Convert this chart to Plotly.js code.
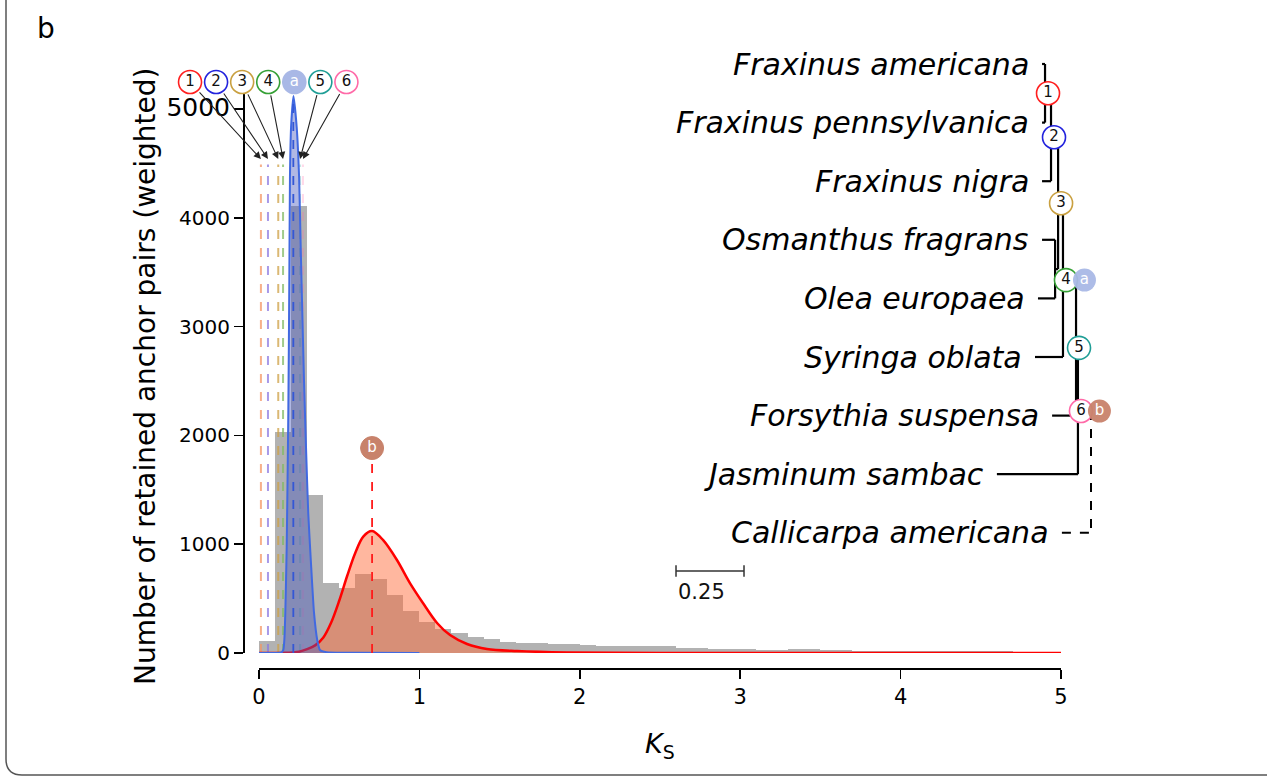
<!DOCTYPE html>
<html><head><meta charset="utf-8">
<script src="https://cdn.plot.ly/plotly-3.0.1.min.js"></script>
<style>html,body{margin:0;padding:0;background:#fff;}#chart{width:1267px;height:778px;}</style>
</head><body><div id="chart"></div>
<script>
// ================= DATA =================
// Ks histogram (bin left edges, bin width 0.1) and weighted anchor-pair counts
const ksBinLeft = [0.0,0.1,0.2,0.3,0.4,0.5,0.6,0.7,0.8,0.9,1.0,1.1,1.2,1.3,1.4,1.5,1.6,1.7,1.8,1.9,
  2.0,2.1,2.2,2.3,2.4,2.5,2.6,2.7,2.8,2.9,3.0,3.1,3.2,3.3,3.4,3.5,3.6,3.7,3.8,3.9,
  4.0,4.1,4.2,4.3,4.4,4.5,4.6,4.7,4.8,4.9];
const anchorCounts = [110,2030,4110,1450,640,600,725,680,535,390,285,220,180,145,126,104,92,88,82,80,
  78,66,64,63,66,64,46,42,36,34,33,28,28,33,33,32,32,22,21,20,
  18,18,17,17,15,14,14,13,13,12];
// WGD component a (blue) density curve
const wgdAKs =     [0.00,0.10,0.140,0.1515,0.158,0.164,0.1727,0.1827,0.189,0.193,0.200,0.215,0.235,0.250,0.260,0.270,0.2805,0.293,0.307,0.324,0.343,0.363,0.380,0.42,0.60,1.00];
const wgdAValues = [0,   0,   5,    28,    120,  368,  975,   2206,  3428, 4375, 4834, 5120, 4834, 4375, 3732, 3125, 2509,  1893, 1287, 827,  368,  120,  28,   8,   3,   0];
// WGD component b (red) density curve
const wgdBKs =     [0.00,0.15,0.25,0.30,0.35,0.40,0.45,0.50,0.55,0.60,0.65,0.705,0.773,0.86,0.941,1.022,1.11,1.191,1.297,1.421,1.608,1.92,2.50,5.00];
const wgdBValues = [0,   1,   12,  35,  70,  140, 280, 480, 710, 920, 1070,1121, 1039, 855, 643,  460,  276, 165,  83,   37,   18,   5,   1,   0];
// WGD peaks
const wgdLabels = ['a','b'];
const wgdPeakKs = [0.214, 0.705];
const wgdPeakValues = [5120, 1121];
// Speciation (divergence) Ks peaks for tree nodes 1-6
const specLabels = ['1','2','3','4','5','6'];
const specPeakKs = [0.012, 0.056, 0.120, 0.150, 0.256, 0.274];
// Tick labels
const xTicks = [0,1,2,3,4,5];
const yTicks = [0,1000,2000,3000,4000,5000];
// Species tree (leaves top to bottom), distances from root in Ks units
const treeLeaves = ['Fraxinus americana','Fraxinus pennsylvanica','Fraxinus nigra','Osmanthus fragrans',
  'Olea europaea','Syringa oblata','Forsythia suspensa','Jasminum sambac','Callicarpa americana'];
const leafDepth = [0.180,0.180,0.180,0.180,0.195,0.206,0.143,0.346,0.107];
const nodeNames  = ['n1','n2','nO','n3','n4','n5','n6','root'];
const nodeChildA = ['L0','n1','L3','n2','n3','n4','n5','n6'];
const nodeChildB = ['L1','L2','L4','nO','L5','L6','L7','L8'];
const nodeDepth  = [0.169,0.147,0.132,0.121,0.103,0.055,0.048,0.000];
const eventNodes = ['n1','n2','n3','n4','n5','n6'];   // speciation event circles at these nodes
const wgdNodes = ['n4','n6'];                          // WGD a / b placed next to events
const scaleBarKs = 0.25;

// ================= STYLE / LAYOUT CONSTANTS =================
const W = 1267, H = 778;
const FONT = 'DejaVu Sans, sans-serif';
const px = v => v / W, py = v => 1 - v / H;
const x0Px = 259, xPxPerKs = 160.4, y0Px = 653, yPxPerCount = 0.1088;
const specColors = ['#ff1f1f','#2323dd','#c9a040','#36a036','#1f9e96','#ff6aa8'];
const specDashColors = ['rgba(244,150,100,0.75)','rgba(140,120,225,0.75)','rgba(205,160,70,0.75)','rgba(130,185,100,0.75)','rgba(31,158,150,0.25)','rgba(255,106,168,0.25)'];
const wgdFill = ['#a9b8e6','#c8826b'];
const circleSize = 23, circleFont = 15;
const calloutStart = -0.43, calloutStep = 0.1625, calloutY = 5248;
const arrowTipY = 4540, dashTopY = 4490;
const treeRootPx = 1091, treePxPerKs = 272, leafTopPx = 64, leafStepPx = 58.6;
const eventShiftKs = 0.011, wgdOffsetKs = 0.068;
const scaleBarStart = 1.5257, scaleBarRow = 8.652;

// ================= TRACES =================
const traces = [];
traces.push({type:'bar', x:ksBinLeft, y:anchorCounts, width:0.1, offset:0,
  marker:{color:'#b2b2b2', line:{width:0}}, xaxis:'x', yaxis:'y', hoverinfo:'skip'});
specPeakKs.forEach((k,i)=>traces.push({type:'scatter', mode:'lines', x:[k,k], y:[0,dashTopY],
  line:{color:specDashColors[i], width:2, dash:'dash'}, hoverinfo:'skip'}));
traces.push({type:'scatter', mode:'lines', x:wgdBKs, y:wgdBValues, fill:'tozeroy',
  fillcolor:'rgba(255,105,55,0.48)', line:{color:'#ff0000', width:2.5, shape:'spline', smoothing:0.9}, hoverinfo:'skip'});
traces.push({type:'scatter', mode:'lines', x:wgdAKs, y:wgdAValues, fill:'tozeroy',
  fillcolor:'rgba(70,85,190,0.42)', line:{color:'#4169e1', width:2, shape:'spline', smoothing:0.5}, hoverinfo:'skip'});
// WGD peak dashed lines
traces.push({type:'scatter', mode:'lines', x:[wgdPeakKs[0],wgdPeakKs[0]], y:[0,wgdPeakValues[0]],
  line:{color:'#3457d5', width:1.8, dash:'dash'}, hoverinfo:'skip'});
traces.push({type:'scatter', mode:'lines', x:[wgdPeakKs[1],wgdPeakKs[1]], y:[0,1780],
  line:{color:'#ff1a1a', width:1.8, dash:'dash'}, hoverinfo:'skip'});
// 'b' circle above red peak
traces.push({type:'scatter', mode:'markers+text', x:[wgdPeakKs[1]], y:[1884], text:['b'],
  textposition:'middle center', textfont:{family:FONT, size:circleFont, color:'#ffffff'},
  marker:{size:circleSize, color:wgdFill[1], line:{color:wgdFill[1], width:1}}, cliponaxis:false, hoverinfo:'skip'});
// callout circles at the top (1,2,3,4,a,5,6) on a full-figure overlay axis with the same Ks/count scale
const calloutLabels = ['1','2','3','4','a','5','6'];
const calloutX = calloutLabels.map((_,i)=>calloutStart + calloutStep*i);
const calloutLine = [specColors[0],specColors[1],specColors[2],specColors[3],wgdFill[0],specColors[4],specColors[5]];
const calloutFill = calloutLabels.map(l=> l==='a' ? wgdFill[0] : '#ffffff');
const calloutText = calloutLabels.map(l=> l==='a' ? '#ffffff' : '#111111');
traces.push({type:'scatter', mode:'markers+text', x:calloutX, y:calloutX.map(()=>calloutY), xaxis:'x3', yaxis:'y3',
  text:calloutLabels, textposition:'middle center', textfont:{family:FONT, size:circleFont, color:calloutText},
  marker:{size:circleSize, color:calloutFill, line:{color:calloutLine, width:1.6}}, cliponaxis:false, hoverinfo:'skip'});

// ---- tree ----
const depth = {}, yPos = {};
treeLeaves.forEach((_,i)=>{depth['L'+i]=leafDepth[i]; yPos['L'+i]=i;});
nodeNames.forEach((n,i)=>{depth[n]=nodeDepth[i]; yPos[n]=(yPos[nodeChildA[i]]+yPos[nodeChildB[i]])/2;});
const solidX=[], solidY=[], dashX=[], dashY=[];
nodeNames.forEach((n,i)=>{
  const tx = n==='root' ? dashX : solidX, ty = n==='root' ? dashY : solidY;
  tx.push(depth[n],depth[n],null); ty.push(yPos[nodeChildA[i]],yPos[nodeChildB[i]],null);
  [nodeChildA[i],nodeChildB[i]].forEach(c=>{tx.push(depth[c],depth[n],null); ty.push(yPos[c],yPos[c],null);});
});
traces.push({type:'scatter', mode:'lines', x:solidX, y:solidY, xaxis:'x2', yaxis:'y2',
  line:{color:'#000', width:2.2}, hoverinfo:'skip'});
traces.push({type:'scatter', mode:'lines', x:dashX, y:dashY, xaxis:'x2', yaxis:'y2',
  line:{color:'#000', width:2, dash:'dash'}, hoverinfo:'skip'});
const evX = eventNodes.map(n=>depth[n]-eventShiftKs);
const evY = eventNodes.map(n=>yPos[n]);
traces.push({type:'scatter', mode:'markers+text', x:evX, y:evY, xaxis:'x2', yaxis:'y2',
  text:specLabels, textposition:'middle center', textfont:{family:FONT, size:circleFont, color:'#111'},
  marker:{size:circleSize, color:'#fff', line:{color:specColors, width:1.6}}, cliponaxis:false, hoverinfo:'skip'});
const wX = wgdNodes.map(n=>depth[n]-eventShiftKs-wgdOffsetKs);
const wY = wgdNodes.map(n=>yPos[n]);
traces.push({type:'scatter', mode:'markers+text', x:wX, y:wY, xaxis:'x2', yaxis:'y2',
  text:wgdLabels, textposition:'middle center', textfont:{family:FONT, size:circleFont, color:'#fff'},
  marker:{size:circleSize, color:wgdFill, line:{width:0}, opacity:0.95}, cliponaxis:false, hoverinfo:'skip'});
// scale bar
const sb0 = scaleBarStart, sb1 = scaleBarStart - scaleBarKs;
traces.push({type:'scatter', mode:'lines', xaxis:'x2', yaxis:'y2',
  x:[sb0,sb1,null,sb0,sb0,null,sb1,sb1], y:[scaleBarRow,scaleBarRow,null,scaleBarRow-0.1,scaleBarRow+0.1,null,scaleBarRow-0.1,scaleBarRow+0.1],
  line:{color:'#333', width:1.5}, hoverinfo:'skip'});

// ================= ANNOTATIONS =================
const ann = [];
specPeakKs.forEach((k,i)=>{
  const ci = i<4 ? i : i+1;
  ann.push({x:k, y:arrowTipY, xref:'x3', yref:'y3', ax:calloutX[ci], ay:calloutY, axref:'x3', ayref:'y3',
    text:'', showarrow:true, arrowhead:2, arrowsize:1.3, arrowwidth:1.1, arrowcolor:'#222', startstandoff:12});
});
treeLeaves.forEach((name,i)=>ann.push({x:leafDepth[i], y:i, xref:'x2', yref:'y2', text:'<i>'+name+'</i>',
  showarrow:false, xanchor:'right', yanchor:'middle', xshift:-11, font:{family:FONT, size:30, color:'#000'}}));
ann.push({x:sb0, y:scaleBarRow+0.36, xref:'x2', yref:'y2', text:(scaleBarKs).toFixed(2), showarrow:false,
  xanchor:'left', yanchor:'middle', font:{family:FONT, size:21, color:'#111'}});
ann.push({x:px(145), y:py(376), xref:'paper', yref:'paper', text:'Number of retained anchor pairs (weighted)',
  textangle:-90, showarrow:false, xanchor:'center', yanchor:'middle', font:{family:FONT, size:28, color:'#000'}});
ann.push({x:px(660), y:py(745), xref:'paper', yref:'paper', text:'<i>K</i><sub>S</sub>',
  showarrow:false, xanchor:'center', yanchor:'middle', font:{family:FONT, size:27, color:'#000'}});
ann.push({x:px(46), y:py(28), xref:'paper', yref:'paper', text:'b',
  showarrow:false, xanchor:'center', yanchor:'middle', font:{family:FONT, size:28, color:'#000'}});

// frame
const fl = px(6), fb = py(775), rx = 16/W, ry = 16/H;
const shapes = [{type:'path', xref:'paper', yref:'paper',
  path:`M ${fl},1.2 L ${fl},${fb+ry} Q ${fl},${fb} ${fl+rx},${fb} L 1.2,${fb}`,
  line:{color:'#555', width:1.5}}];

const layout = {
  width:W, height:H, margin:{l:0,r:0,t:0,b:0}, paper_bgcolor:'#fff', plot_bgcolor:'rgba(0,0,0,0)',
  showlegend:false, bargap:0, font:{family:FONT, color:'#000'},
  xaxis:{domain:[px(259),px(1061)], range:[0,5], anchor:'free', position:py(668), showline:true, linewidth:1.5,
    linecolor:'#000', ticks:'outside', ticklen:9, tickwidth:1.5, tickcolor:'#000', tickvals:xTicks,
    ticktext:xTicks.map(String), tickfont:{size:21, family:FONT}, showgrid:false, zeroline:false, fixedrange:true},
  yaxis:{domain:[py(653),py(93)], range:[0,(653-93)/yPxPerCount], anchor:'free', position:px(243), showline:true,
    linewidth:1.5, linecolor:'#000', ticks:'outside', ticklen:9, tickwidth:1.5, tickcolor:'#000', tickvals:yTicks,
    ticktext:yTicks.map(v=> v===5000 ? '<span style="font-size:25px">5000</span>' : String(v)),
    tickfont:{size:20, family:FONT}, showgrid:false, zeroline:false, fixedrange:true},
  xaxis2:{domain:[0,1], range:[treeRootPx/treePxPerKs, (treeRootPx-W)/treePxPerKs], anchor:'y2', visible:false, fixedrange:true},
  yaxis2:{domain:[0,1], range:[(H-leafTopPx)/leafStepPx, -leafTopPx/leafStepPx], anchor:'x2', visible:false, fixedrange:true},
  xaxis3:{domain:[0,1], range:[-x0Px/xPxPerKs, (W-x0Px)/xPxPerKs], anchor:'y3', visible:false, fixedrange:true},
  yaxis3:{domain:[0,1], range:[(y0Px-H)/yPxPerCount, y0Px/yPxPerCount], anchor:'x3', visible:false, fixedrange:true},
  annotations:ann, shapes:shapes
};
Plotly.newPlot('chart', traces, layout, {displayModeBar:false, staticPlot:true});
</script></body></html>
